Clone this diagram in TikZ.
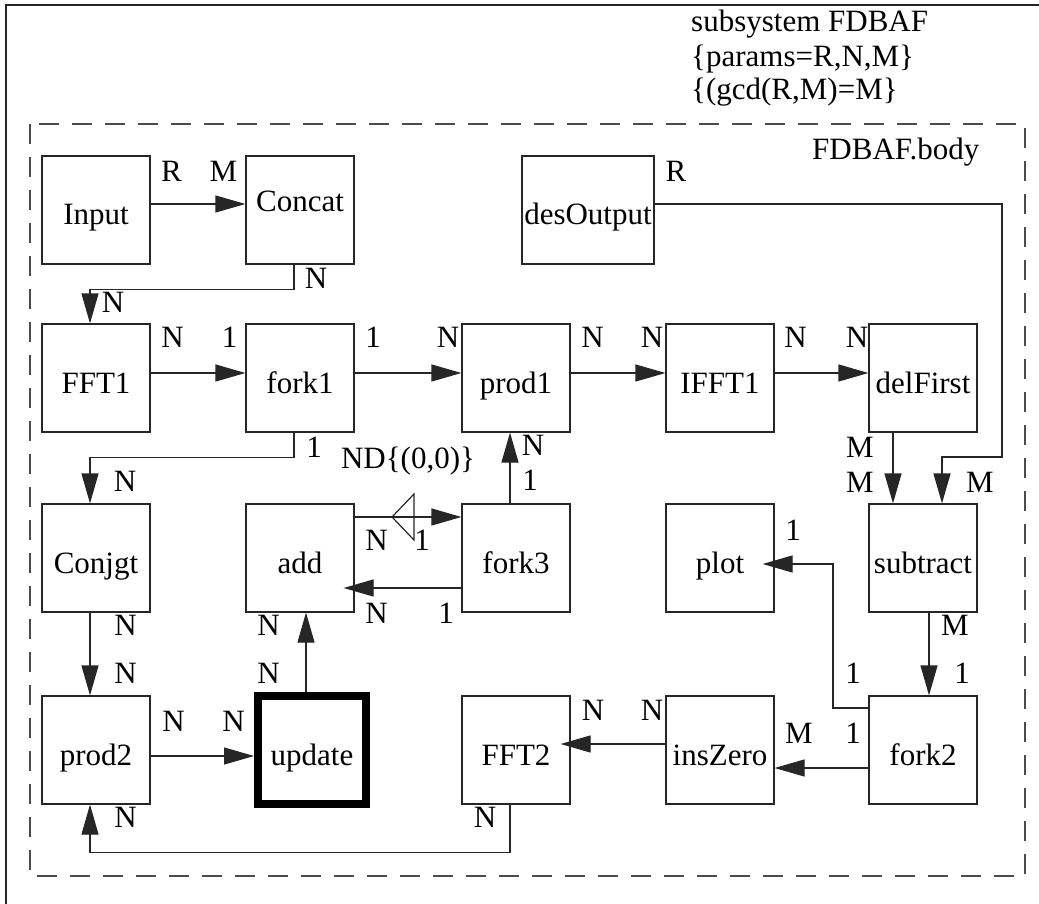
\documentclass[tikz,border=0pt]{standalone}
\usepackage{fontspec}
\setmainfont{Liberation Serif}
\usetikzlibrary{arrows.meta}
\begin{document}
\begin{tikzpicture}[x=1pt,y=-1pt,
  every node/.style={font=\fontsize{31}{36}\selectfont},
  blk/.style={draw=black!85,line width=1.2pt,minimum width=108pt,minimum height=108pt,inner sep=0pt,text height=30pt,text depth=0pt},
  lbl/.style={anchor=base,inner sep=0pt},
  conn/.style={line width=1.2pt,draw=black!85},
  arr/.style={conn,-{Triangle[length=30pt,width=17pt]}},
  frame/.style={line width=1.2pt,draw=black!85},
  dashframe/.style={line width=1.2pt,draw=black!70,dash pattern=on 20pt off 13pt},
]
\useasboundingbox (0,0) rectangle (1039,904);
\fill[white] (0,0) rectangle (1039,904);
% outer frame and dashed body
\draw[frame] (6,910) -- (6,5) -- (1045,5);
\draw[dashframe] (30,124) rectangle (1025,876);
% titles
\node[anchor=base west,inner sep=0pt] (t1) at (691,32) {subsystem FDBAF};
\node[anchor=base west,inner sep=0pt] (t2) at (691,67) {\{params=R,N,M\}};
\node[anchor=base west,inner sep=0pt] (t3) at (691,100) {\{(gcd(R,M)=M\}};
\node[anchor=base west,inner sep=0pt] (t4) at (812,160) {FDBAF.body};
% blocks
\node[blk] (input) at (96,210) {Input};
\node[blk,text height=4pt] (concat) at (300,210) {Concat};
\node[blk,minimum width=132pt] (desout) at (588,210) {desOutput};
\node[blk] (fft1) at (96,378) {FFT1};
\node[blk] (fork1) at (300,378) {fork1};
\node[blk] (prod1) at (516,378) {prod1};
\node[blk] (ifft1) at (720,378) {IFFT1};
\node[blk] (delfirst) at (923,378) {delFirst};
\node[blk] (conjgt) at (96,558) {Conjgt};
\node[blk] (add) at (300,558) {add};
\node[blk] (fork3) at (516,558) {fork3};
\node[blk] (plot) at (720,558) {plot};
\node[blk] (subtract) at (923,558) {subtract};
\node[blk] (prod2) at (96,750) {prod2};
\node[blk,line width=8pt,draw=black] (update) at (312,750) {update};
\node[blk] (fft2) at (516,750) {FFT2};
\node[blk] (inszero) at (720,750) {insZero};
\node[blk] (fork2) at (923,750) {fork2};
% helper coordinates
\coordinate (dc) at (1002,457);
\coordinate (pk) at (833,564);
\coordinate (dl) at (392,517);
% connectors
\draw[arr] ([yshift=6pt]input.east) -- ([yshift=6pt]concat.west);
\draw[arr] ([xshift=-6pt]concat.south) -- ++(0,25) -| ([xshift=-6pt]fft1.north);
\draw[arr] ([yshift=5pt]fft1.east) -- ([yshift=5pt]fork1.west);
\draw[arr] ([yshift=5pt]fork1.east) -- ([yshift=5pt]prod1.west);
\draw[arr] ([xshift=-6pt]fork1.south) -- ++(0,25) -| ([xshift=-6pt]conjgt.north);
\draw[arr] ([yshift=5pt]prod1.east) -- ([yshift=5pt]ifft1.west);
\draw[arr] ([yshift=5pt]ifft1.east) -- ([yshift=5pt]delfirst.west);
\draw[arr] ([xshift=-30pt]delfirst.south) -- ([xshift=-30pt]subtract.north);
\draw[arr] ([yshift=6pt]desout.east) -| (dc) -| ([xshift=19pt]subtract.north);
\draw[arr] ([xshift=6pt]subtract.south) -- ([xshift=6pt]fork2.north);
\draw[arr] ([yshift=42pt]fork2.west) -| (pk) -- ([xshift=-12pt,yshift=-6pt]plot.east);
\draw[arr] ([yshift=-18pt]fork2.west) -- ([yshift=-18pt]inszero.east);
\draw[arr] ([yshift=6pt]inszero.west) -- ([xshift=-10pt,yshift=6pt]fft2.east);
\draw[arr] ([xshift=-6pt]fft2.south) -- ++(0,48) -| ([xshift=-6pt]prod2.south);
\draw[arr] ([xshift=-6pt]conjgt.south) -- ([xshift=-6pt]prod2.north);
\draw[arr] ([yshift=-6pt]prod2.east) -- ([yshift=-6pt]update.west);
\draw[arr] ([xshift=-6pt]update.north) -- ([xshift=6pt]add.south);
\draw[arr] ([yshift=-30pt]fork3.west) -- ([xshift=-11pt,yshift=-30pt]add.east);
\draw[arr] ([yshift=41pt]add.east) -- ([yshift=41pt]fork3.west);
\draw[arr] ([xshift=-6pt]fork3.north) -- ([xshift=-6pt]prod1.south);
% delay marker
\draw[conn] (dl) -- ++(22,-23) -- ++(0,46) -- cycle;
% port labels
\node[lbl] (l1) at (171.5,182) {R};
\node[lbl] (l2) at (223.5,182) {M};
\node[lbl] (l3) at (316,288) {N};
\node[lbl] (l4) at (113,312) {N};
\node[lbl] (l5) at (172.5,347) {N};
\node[lbl] (l6) at (229.5,347) {1};
\node[lbl] (l7) at (373,347) {1};
\node[lbl] (l8) at (448,347) {N};
\node[lbl] (l9) at (314,457) {1};
\node[lbl] (l10) at (125,491) {N};
\node[lbl] (l11) at (592.5,347) {N};
\node[lbl] (l12) at (652,347) {N};
\node[lbl] (l13) at (795.5,347) {N};
\node[lbl] (l14) at (857,347) {N};
\node[lbl] (l15) at (860,457) {M};
\node[lbl] (l16) at (860,492) {M};
\node[lbl] (l17) at (676,182) {R};
\node[lbl] (l18) at (980,492) {M};
\node[lbl] (l19) at (955,635) {M};
\node[lbl] (l20) at (962,683) {1};
\node[lbl] (l21) at (793,540) {1};
\node[lbl] (l22) at (853,683) {1};
\node[lbl] (l23) at (799,743) {M};
\node[lbl] (l24) at (853,743) {1};
\node[lbl] (l25) at (593,720) {N};
\node[lbl] (l26) at (652,720) {N};
\node[lbl] (l27) at (485,827) {N};
\node[lbl] (l28) at (125.5,827) {N};
\node[lbl] (l29) at (125.5,635) {N};
\node[lbl] (l30) at (125.5,683) {N};
\node[lbl] (l31) at (173.5,731) {N};
\node[lbl] (l32) at (233.5,731) {N};
\node[lbl] (l33) at (268.5,635) {N};
\node[lbl] (l34) at (268.5,683) {N};
\node[lbl] (l35) at (376.5,623) {N};
\node[lbl] (l36) at (446,623) {1};
\node[lbl] (l37) at (376.5,550) {N};
\node[lbl] (l38) at (422,550) {1};
\node[lbl] (l39) at (408,468) {ND\{(0,0)\}};
\node[lbl] (l40) at (533,455) {N};
\node[lbl] (l41) at (530,490) {1};
\end{tikzpicture}
\end{document}
